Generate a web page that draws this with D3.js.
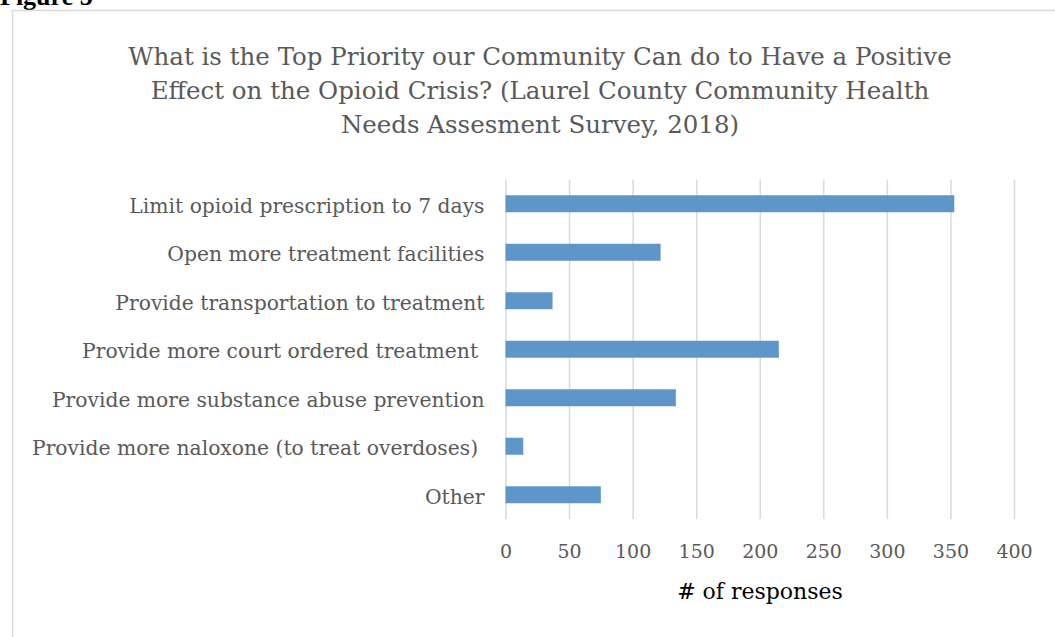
<!DOCTYPE html>
<html>
<head>
<meta charset="utf-8">
<script src="https://cdn.jsdelivr.net/npm/d3@7"></script>
<style>
  body { margin: 0; background: #fff; }
  svg { display: block; }
</style>
</head>
<body>
<div id="canvas"></div>
<script>
"use strict"

// survey answers, top to bottom as they appear
let categories = [
    "Limit opioid prescription to 7 days",
    "Open more treatment facilities",
    "Provide transportation to treatment",
    "Provide more court ordered treatment ",
    "Provide more substance abuse prevention",
    "Provide more naloxone (to treat overdoses) ",
    "Other"
];
let responses = [353, 122, 37, 215, 134, 14, 75];
let xTicks = [0, 50, 100, 150, 200, 250, 300, 350, 400];
let titleLines = [
    "What is the Top Priority our Community Can do to Have a Positive",
    "Effect on the Opioid Crisis? (Laurel County Community Health",
    "Needs Assesment Survey, 2018)"
];

let drawingWidth = 1055;
let drawingHeight = 637;
let serif = "'DejaVu Serif', 'Liberation Serif', serif";
let plotTop = 179.5;
let plotBottom = 519;

let drawing = d3.select("#canvas")
    .append("svg")
    .attr("width", drawingWidth)
    .attr("height", drawingHeight);

/* the half-visible caption above the chart frame */
drawing.append("text")
    .attr("x", 0)
    .attr("y", 5)
    .attr("font-family", "'Liberation Serif', serif")
    .attr("font-weight", "bold")
    .attr("font-size", 26)
    .attr("fill", "#000")
    .text("Figure 5");

/* chart frame, runs off the right and bottom edges */
drawing.append("rect")
    .attr("x", 12.5)
    .attr("y", 10.5)
    .attr("width", 1080)
    .attr("height", 700)
    .attr("fill", "#fff")
    .attr("stroke", "#d9d9d9")
    .attr("stroke-width", 1.5);

let x = d3.scaleLinear()
    .domain([0, 400])
    .range([505.5, 1014]);

let y = d3.scaleBand()
    .domain(categories)
    .range([plotTop, plotBottom])
    .paddingInner(0.65)
    .paddingOuter(0.325);

// gridlines + tick labels
let xAxis = drawing.append("g")
    .attr("transform", "translate(0," + plotBottom + ")")
    .call(d3.axisBottom(x)
        .tickValues(xTicks)
        .tickSize(-(plotBottom - plotTop))
        .tickPadding(26));
xAxis.select(".domain").remove();
xAxis.selectAll(".tick line")
    .attr("stroke", "#d9d9d9")
    .attr("stroke-width", 1.5);
xAxis.selectAll(".tick text")
    .attr("font-family", serif)
    .attr("font-size", 19)
    .attr("fill", "#595959");

let yAxis = drawing.append("g")
    .attr("transform", "translate(" + x(0) + ",0)")
    .call(d3.axisLeft(y).tickSize(0).tickPadding(21));
yAxis.select(".domain").remove();
yAxis.selectAll(".tick text")
    .attr("font-family", serif)
    .attr("font-size", 20.3)
    .attr("dy", "0.45em")
    .attr("fill", "#595959")
    .style("white-space", "pre");

/* bars */
drawing.append("g")
    .selectAll("rect")
    .data(categories)
    .join("rect")
    .attr("x", x(0))
    .attr("y", d => y(d))
    .attr("width", (d, i) => x(responses[i]) - x(0))
    .attr("height", y.bandwidth())
    .attr("fill", "#5e96ca");

/* title */
drawing.append("g")
    .selectAll("text")
    .data(titleLines)
    .join("text")
    .attr("x", 540)
    .attr("y", (d, i) => 65 + i * 34)
    .attr("text-anchor", "middle")
    .attr("font-family", serif)
    .attr("font-size", 24.5)
    .attr("fill", "#595959")
    .text(d => d);

// axis title
drawing.append("text")
    .attr("x", 760)
    .attr("y", 599)
    .attr("text-anchor", "middle")
    .attr("font-family", serif)
    .attr("font-size", 22)
    .attr("fill", "#000")
    .text("# of responses");
</script>
</body>
</html>
